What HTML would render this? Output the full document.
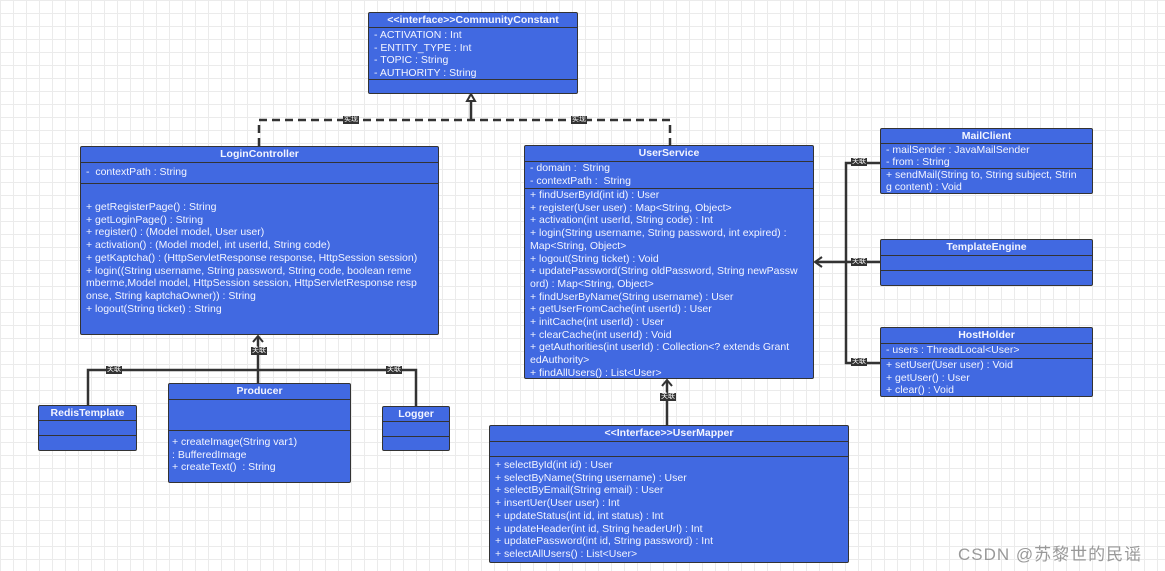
<!DOCTYPE html>
<html><head><meta charset="utf-8"><style>
html,body{margin:0;padding:0}
body{width:1165px;height:571px;position:relative;overflow:hidden;background-color:#fff;
background-image:linear-gradient(#ebebeb 1px,transparent 1px),linear-gradient(90deg,#ebebeb 1px,transparent 1px);
background-size:13px 13px;font-family:"Liberation Sans","Noto Sans CJK SC",sans-serif;}
.b{position:absolute;background:#4169e1;border:1px solid #333;border-radius:2px;color:#f2f4ff;font-size:10.5px;line-height:12.7px;box-sizing:border-box;overflow:hidden}
.h{font-weight:bold;text-align:center;border-bottom:1.5px solid #333;box-sizing:border-box;line-height:14px}
.s{border-bottom:1.5px solid #333;box-sizing:border-box;padding:0 0 0 5px;white-space:pre}
.s:last-child{border-bottom:none}
.lab{position:absolute;background:#333;color:#fff;font-size:7px;line-height:8px;padding:0 1px}
.wm{position:absolute;left:958px;top:540px;color:#999;font-size:17px;letter-spacing:1px}
svg{position:absolute;left:0;top:0}
</style></head><body>
<svg width="1165" height="571">
<g stroke="#333" stroke-width="2.5" fill="none">
<path d="M259 146 V120 H670 V145" stroke-dasharray="8,5"/>
<path d="M471 120 V96"/>
<path d="M258 383 V337"/>
<path d="M88 405 V370 H416 V406"/>
<path d="M667 425 V381"/>
<path d="M880 163 H846 V363 H880"/>
<path d="M880 262 H816"/>
</g>
<g fill="none" stroke="#333" stroke-width="2">
<path d="M467 101 L471 94 L475 101 Z" fill="#fff"/>
<path d="M253 342 L258 336 L263 342"/>
<path d="M662 386 L667 380 L672 386"/>
<path d="M822 257 L815 262 L822 267"/>
</g>
</svg>
<div class="lab" style="left:343px;top:116px">实现</div>
<div class="lab" style="left:571px;top:116px">实现</div>
<div class="lab" style="left:251px;top:347px">关联</div>
<div class="lab" style="left:106px;top:366px">关联</div>
<div class="lab" style="left:386px;top:366px">关联</div>
<div class="lab" style="left:660px;top:393px">关联</div>
<div class="lab" style="left:851px;top:158px">关联</div>
<div class="lab" style="left:851px;top:258px">关联</div>
<div class="lab" style="left:851px;top:358px">关联</div>

<div class="b" style="left:368px;top:12px;width:210px;height:82px">
<div class="h" style="height:15px">&lt;&lt;interface&gt;&gt;CommunityConstant</div>
<div class="s" style="height:52px;padding-top:1px">- ACTIVATION : Int
- ENTITY_TYPE : Int
- TOPIC : String
- AUTHORITY : String</div>
<div class="s"></div></div>

<div class="b" style="left:80px;top:146px;width:359px;height:189px">
<div class="h" style="height:16px">LoginController</div>
<div class="s" style="height:21px;padding-top:3px">-  contextPath : String</div>
<div class="s" style="padding-top:17px">+ getRegisterPage() : String
+ getLoginPage() : String
+ register() : (Model model, User user)
+ activation() : (Model model, int userId, String code)
+ getKaptcha() : (HttpServletResponse response, HttpSession session)
+ login((String username, String password, String code, boolean reme
mberme,Model model, HttpSession session, HttpServletResponse resp
onse, String kaptchaOwner)) : String
+ logout(String ticket) : String</div></div>

<div class="b" style="left:524px;top:145px;width:290px;height:234px">
<div class="h" style="height:16px">UserService</div>
<div class="s" style="height:27px;padding-top:0">- domain :  String
- contextPath :  String</div>
<div class="s">+ findUserById(int id) : User
+ register(User user) : Map&lt;String, Object&gt;
+ activation(int userId, String code) : Int
+ login(String username, String password, int expired) :
Map&lt;String, Object&gt;
+ logout(String ticket) : Void
+ updatePassword(String oldPassword, String newPassw
ord) : Map&lt;String, Object&gt;
+ findUserByName(String username) : User
+ getUserFromCache(int userId) : User
+ initCache(int userId) : User
+ clearCache(int userId) : Void
+ getAuthorities(int userId) : Collection&lt;? extends Grant
edAuthority&gt;
+ findAllUsers() : List&lt;User&gt;</div></div>

<div class="b" style="left:880px;top:128px;width:213px;height:66px;line-height:12.2px">
<div class="h" style="height:15px">MailClient</div>
<div class="s" style="height:25px">- mailSender : JavaMailSender
- from : String</div>
<div class="s">+ sendMail(String to, String subject, Strin
g content) : Void</div></div>

<div class="b" style="left:880px;top:239px;width:213px;height:47px">
<div class="h" style="height:16px">TemplateEngine</div>
<div class="s" style="height:15px"></div>
<div class="s"></div></div>

<div class="b" style="left:880px;top:327px;width:213px;height:70px">
<div class="h" style="height:16px">HostHolder</div>
<div class="s" style="height:15px">- users : ThreadLocal&lt;User&gt;</div>
<div class="s">+ setUser(User user) : Void
+ getUser() : User
+ clear() : Void</div></div>

<div class="b" style="left:38px;top:405px;width:99px;height:46px">
<div class="h" style="height:15px">RedisTemplate</div>
<div class="s" style="height:15px"></div>
<div class="s"></div></div>

<div class="b" style="left:168px;top:383px;width:183px;height:100px">
<div class="h" style="height:16px">Producer</div>
<div class="s" style="height:31px"></div>
<div class="s" style="padding:5px 0 0 3px">+ createImage(String var1)
: BufferedImage
+ createText()  : String</div></div>

<div class="b" style="left:382px;top:406px;width:68px;height:45px">
<div class="h" style="height:15px">Logger</div>
<div class="s" style="height:15px"></div>
<div class="s"></div></div>

<div class="b" style="left:489px;top:425px;width:360px;height:138px">
<div class="h" style="height:16px">&lt;&lt;Interface&gt;&gt;UserMapper</div>
<div class="s" style="height:15px"></div>
<div class="s" style="padding-top:2px">+ selectById(int id) : User
+ selectByName(String username) : User
+ selectByEmail(String email) : User
+ insertUer(User user) : Int
+ updateStatus(int id, int status) : Int
+ updateHeader(int id, String headerUrl) : Int
+ updatePassword(int id, String password) : Int
+ selectAllUsers() : List&lt;User&gt;</div></div>

<div class="wm">CSDN @苏黎世的民谣</div>
</body></html>
